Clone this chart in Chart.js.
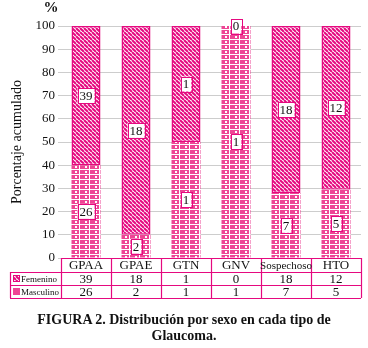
<!DOCTYPE html>
<html>
<head>
<meta charset="utf-8">
<script src="https://cdn.jsdelivr.net/npm/chart.js@4.4.1/dist/chart.umd.min.js"></script>
<style>
  html, body { margin: 0; padding: 0; background: #fff; }
  #wrap { position: relative; width: 368px; height: 348px; }
  #c { position: absolute; left: 0; top: 0; }
  #cap { position: absolute; left: 0; top: 312px; width: 368px; text-align: center;
         font-family: "Liberation Serif", serif; font-weight: bold; font-size: 14px; line-height: 16px; color: #111; }
</style>
</head>
<body>
<div id="wrap">
  <canvas id="c" width="368" height="348"></canvas>
  <div id="cap">FIGURA 2. Distribución por sexo en cada tipo de<br>Glaucoma.</div>
</div>
<script>
const categories = ['GPAA', 'GPAE', 'GTN', 'GNV', 'Sospechoso', 'HTO'];
const femenino = [39, 18, 1, 0, 18, 12];
const masculino = [26, 2, 1, 1, 7, 5];
const seriesNames = ['Femenino', 'Masculino'];
const yTickStep = 10;
const yMax = 100;
const yTitle = 'Porcentaje acumulado';
const unitLabel = '%';

const PINK = '#E5097F';
const BRICK = '#EE4595';
const SERIF = '"Liberation Serif", "Times New Roman", serif';

const totals = categories.map((_, i) => femenino[i] + masculino[i]);
const mascPct = masculino.map((v, i) => v / totals[i] * 100);
const femPct = femenino.map((v, i) => v / totals[i] * 100);

function hatchPattern() {
  const t = document.createElement('canvas');
  t.width = 4; t.height = 4;
  const g = t.getContext('2d');
  g.fillStyle = '#fff'; g.fillRect(0, 0, 4, 4);
  g.strokeStyle = PINK; g.lineWidth = 2;
  g.beginPath();
  for (let k = -4; k <= 8; k += 4) { g.moveTo(k, 0); g.lineTo(k + 4, 4); }
  g.stroke();
  return g.createPattern(t, 'repeat');
}
function brickPattern() {
  const t = document.createElement('canvas');
  t.width = 10; t.height = 5;
  const g = t.getContext('2d');
  g.fillStyle = '#fff'; g.fillRect(0, 0, 10, 5);
  g.fillStyle = BRICK;
  g.fillRect(0, 0, 9, 4);
  g.fillStyle = '#fff';
  g.fillRect(5, 1, 2, 2);
  return g.createPattern(t, 'repeat');
}
const hatch = hatchPattern();
const brick = brickPattern();

const overlay = {
  id: 'overlay',
  afterDatasetsDraw(chart) {
    const ctx = chart.ctx;
    ctx.save();
    ctx.font = '13px ' + SERIF;
    ctx.textAlign = 'center';
    ctx.textBaseline = 'middle';
    chart.data.datasets.forEach((ds, di) => {
      const meta = chart.getDatasetMeta(di);
      meta.data.forEach((bar, i) => {
        const raw = ds.rawValues[i];
        const cy = (bar.y + bar.base) / 2;
        const txt = String(raw);
        const w = ctx.measureText(txt).width + 4;
        const h = 15;
        ctx.fillStyle = '#fff';
        ctx.fillRect(bar.x - w / 2, cy - h / 2, w, h);
        ctx.strokeStyle = PINK; ctx.lineWidth = 1;
        ctx.strokeRect(Math.round(bar.x - w / 2) + 0.5, Math.round(cy - h / 2) + 0.5, Math.round(w), h);
        ctx.fillStyle = '#111';
        ctx.fillText(txt, bar.x, cy + 1);
      });
    });
    ctx.restore();
  },
  afterDraw(chart) {
    const ctx = chart.ctx;
    const a = chart.chartArea;
    const xs = chart.scales.x;
    const n = categories.length;
    const cw = (a.right - a.left) / n;
    const top = Math.round(a.bottom);
    const r1 = top + 14, r2 = r1 + 13, r3 = r2 + 13;
    const tableLeft = 10;
    ctx.save();
    ctx.strokeStyle = PINK; ctx.lineWidth = 1.2;
    ctx.beginPath();
    ctx.moveTo(a.left, top + 0.5); ctx.lineTo(a.right, top + 0.5);
    ctx.moveTo(tableLeft, r1 + 0.5); ctx.lineTo(a.right, r1 + 0.5);
    ctx.moveTo(tableLeft, r2 + 0.5); ctx.lineTo(a.right, r2 + 0.5);
    ctx.moveTo(tableLeft, r3 + 0.5); ctx.lineTo(a.right, r3 + 0.5);
    ctx.moveTo(tableLeft + 0.5, r1); ctx.lineTo(tableLeft + 0.5, r3);
    for (let i = 0; i <= n; i++) {
      const x = Math.round(a.left + i * cw) + 0.5;
      ctx.moveTo(x, top); ctx.lineTo(x, r3);
    }
    ctx.stroke();
    ctx.fillStyle = '#111';
    ctx.textAlign = 'center';
    ctx.textBaseline = 'middle';
    categories.forEach((c, i) => {
      const x = xs.getPixelForValue(i);
      ctx.font = (c.length > 6 ? '11px ' : '13px ') + SERIF;
      ctx.fillText(c, x, (top + r1) / 2 + 1);
      ctx.font = '13px ' + SERIF;
      ctx.fillText(String(femenino[i]), x, (r1 + r2) / 2 + 1);
      ctx.fillText(String(masculino[i]), x, (r2 + r3) / 2 + 1);
    });
    const sw = 7;
    ctx.fillStyle = hatch;
    ctx.fillRect(13, (r1 + r2) / 2 - sw / 2, sw, sw);
    ctx.strokeStyle = PINK; ctx.lineWidth = 1;
    ctx.strokeRect(13.5, (r1 + r2) / 2 - sw / 2 + 0.5, sw - 1, sw - 1);
    ctx.fillStyle = BRICK;
    ctx.fillRect(13, (r2 + r3) / 2 - sw / 2, sw, sw);
    ctx.fillStyle = '#111';
    ctx.textAlign = 'left';
    ctx.font = '9px ' + SERIF;
    ctx.fillText(seriesNames[0], 21, (r1 + r2) / 2 + 1);
    ctx.fillText(seriesNames[1], 21, (r2 + r3) / 2 + 1);
    ctx.save();
    ctx.translate(17, (a.top + a.bottom) / 2);
    ctx.rotate(-Math.PI / 2);
    ctx.textAlign = 'center';
    ctx.font = '14px ' + SERIF;
    ctx.fillText(yTitle, 0, 0);
    ctx.restore();
    ctx.textAlign = 'center';
    ctx.font = 'bold 15px ' + SERIF;
    ctx.fillText(unitLabel, 51, 8);
    ctx.restore();
  }
};

new Chart(document.getElementById('c'), {
  type: 'bar',
  data: {
    labels: categories,
    datasets: [
      {
        label: seriesNames[1],
        data: mascPct,
        rawValues: masculino,
        backgroundColor: brick,
        borderWidth: 0,
        categoryPercentage: 1,
        barPercentage: 0.58
      },
      {
        label: seriesNames[0],
        data: femPct,
        rawValues: femenino,
        backgroundColor: hatch,
        borderColor: PINK,
        borderWidth: 1.5,
        borderSkipped: false,
        categoryPercentage: 1,
        barPercentage: 0.58
      }
    ]
  },
  options: {
    responsive: false,
    animation: false,
    devicePixelRatio: 1,
    layout: { padding: { top: 26, right: 7, bottom: 90, left: 0 } },
    plugins: { legend: { display: false }, tooltip: { enabled: false } },
    scales: {
      x: { stacked: true, display: false },
      y: {
        stacked: true,
        min: 0, max: yMax,
        afterFit(s) { s.width = 61; },
        border: { display: false },
        grid: { color: '#CDCDCD', lineWidth: 1, tickLength: 3, drawTicks: true },
        ticks: { stepSize: yTickStep, padding: 3, color: '#111', font: { family: SERIF, size: 13 } }
      }
    }
  },
  plugins: [overlay]
});
</script>
</body>
</html>
